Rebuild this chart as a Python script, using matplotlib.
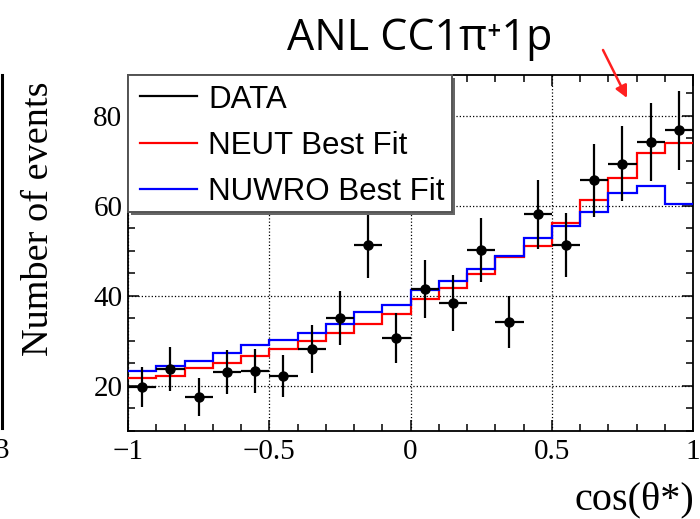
import numpy as np
import matplotlib.pyplot as plt
from matplotlib.lines import Line2D
from matplotlib.patches import Rectangle

# cos(theta*) binning: 20 bins between -1 and 1
bin_edges = np.round(np.arange(-1.0, 1.01, 0.1), 1)
bin_centers = bin_edges[:-1] + 0.05

# measured event counts per bin
data_counts = [19.8, 23.8, 17.6, 23.1, 23.3, 22.2, 28.2, 35.1, 51.2, 30.6,
               41.5, 38.5, 50.1, 34.2, 58.1, 51.3, 65.6, 69.3, 74.2, 76.7]

# best fit predictions
neut_fit = [21.7, 22.2, 23.9, 25.0, 26.7, 28.3, 29.9, 31.8, 33.7, 36.0,
            39.3, 41.7, 44.9, 48.7, 51.1, 56.1, 61.3, 66.1, 71.7, 73.9]
nuwro_fit = [23.4, 24.5, 25.5, 27.3, 29.0, 30.2, 31.8, 33.7, 36.5, 38.0,
             41.2, 43.3, 46.0, 48.8, 52.8, 55.6, 58.7, 62.8, 64.4, 60.4]

legend_labels = ['DATA', 'NEUT Best Fit', 'NUWRO Best Fit']
legend_colors = ['black', '#ff0000', '#0000ff']

serif = ['Liberation Serif', 'DejaVu Serif']
sans = ['Liberation Sans', 'DejaVu Sans']

W, H = 700, 519


def fpx(x, y):
    """pixel position (from top-left) -> figure fraction"""
    return x / W, 1 - y / H


fig = plt.figure(figsize=(W / 100, H / 100), dpi=100)
ax = fig.add_axes([128 / W, 88 / H, 565 / W, 356 / H])

ax.stairs(neut_fit, bin_edges, color=legend_colors[1], lw=1.6, baseline=None, zorder=3)
ax.stairs(nuwro_fit, bin_edges, color=legend_colors[2], lw=1.6, baseline=None, zorder=3)

counts = np.array(data_counts)
ax.errorbar(bin_centers, counts, yerr=np.sqrt(counts), xerr=0.05, fmt='o',
            color='black', ms=6.5, elinewidth=1.6, capsize=0, zorder=4)

ax.set_xlim(-1, 1)
ax.set_ylim(10, 89)
ax.set_xticks([-1, -0.5, 0, 0.5, 1])
ax.set_xticklabels(['\u22121', '\u22120.5', '0', '0.5', '1'])
ax.set_xticks(np.round(np.arange(-1, 1.01, 0.1), 1), minor=True)
ax.set_yticks([20, 40, 60, 80])
ax.set_yticks(np.arange(10, 90, 5), minor=True)
ax.tick_params(which='both', direction='in', top=True, right=True, width=1.1)
ax.tick_params(which='major', length=8)
ax.tick_params(which='minor', length=5)
ax.tick_params(axis='x', pad=6)
ax.tick_params(axis='y', pad=4)
for lbl in ax.get_xticklabels() + ax.get_yticklabels():
    lbl.set_family(serif)
    lbl.set_fontsize(21)
for sp in ax.spines.values():
    sp.set_linewidth(1.3)

ax.grid(True, which='major', ls=':', color='black', lw=0.9)

# legend box (ROOT style, with a drop shadow)
x0, y0, x1, y1 = 128, 75, 452, 212
shadow = Rectangle(fpx(x0 + 3, y1 + 3), (x1 - x0) / W, (y1 - y0) / H,
                   transform=fig.transFigure, facecolor='#666666',
                   edgecolor='none', zorder=9)
box = Rectangle(fpx(x0, y1), (x1 - x0) / W, (y1 - y0) / H,
                transform=fig.transFigure, facecolor='white',
                edgecolor='#555555', lw=1.4, zorder=10)
fig.add_artist(shadow)
fig.add_artist(box)
for i, (lab, col) in enumerate(zip(legend_labels, legend_colors)):
    yc = 96 + i * 46.5
    fig.add_artist(Line2D([140 / W, 197 / W], [1 - yc / H] * 2,
                          color=col, lw=1.6, zorder=11))
    fig.text(208 / W, 1 - yc / H, lab, ha='left', va='center_baseline',
             family=sans, fontsize=22.5, zorder=11)

fig.text(*fpx(38.5, 218.5), 'Number of events', rotation=90,
         ha='center', va='center', family=serif, fontsize=27.5)
fig.text(*fpx(694, 509), 'cos(\u03b8*)', ha='right', va='baseline',
         family=serif, fontsize=29)

fig.text(*fpx(420, 50), 'ANL CC1\u03c0\u207a1p', ha='center',
         va='baseline', family=['Open Sans', 'DejaVu Sans'], fontsize=31)

# red pointer above the forward bins
ax.annotate('', xy=(627, H - 98), xycoords='figure pixels',
            xytext=(603, H - 50), textcoords='figure pixels',
            arrowprops=dict(arrowstyle='-|>', color='#ff2020', lw=1.8,
                            mutation_scale=18, shrinkA=0, shrinkB=0),
            annotation_clip=False)

# edge of the neighbouring panel
fig.add_artist(Line2D([2 / W, 2 / W], [1 - 75 / H, 1 - 428 / H],
                      color='black', lw=2.2))
fig.text(*fpx(9, 458), '3', ha='right', va='baseline',
         family=serif, fontsize=21)

fig.savefig('out.png', dpi=100)
